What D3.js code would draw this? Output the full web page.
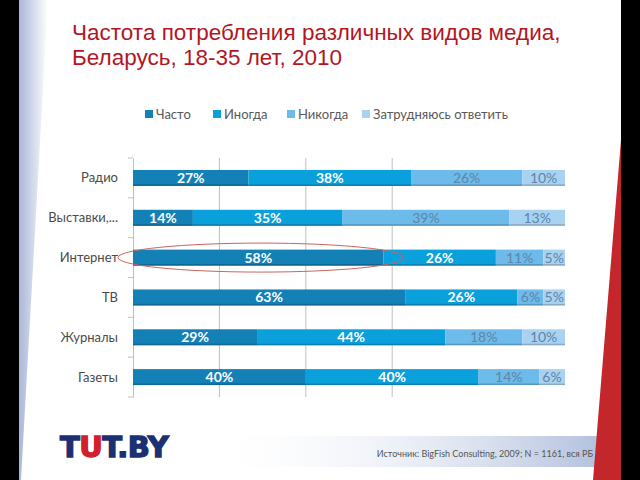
<!DOCTYPE html>
<html><head><meta charset="utf-8">
<script src="https://cdn.jsdelivr.net/npm/d3@7"></script>
<style>html,body{margin:0;padding:0;background:#fff;}svg{display:block;}</style>
</head><body>
<svg id="c" width="640" height="480"></svg>
<script>
const categories = ["Радио", "Выставки,...", "Интернет", "ТВ", "Журналы", "Газеты"];
const seriesNames = ["Часто", "Иногда", "Никогда", "Затрудняюсь ответить"];
const often = [27, 14, 58, 63, 29, 40];
const sometimes = [38, 35, 26, 26, 44, 40];
const never = [26, 39, 11, 6, 18, 14];
const unsure = [10, 13, 5, 5, 10, 6];
const gridTicks = [0.2, 0.4, 0.6];
const titleLines = ["Частота потребления различных видов медиа,", "Беларусь, 18-35 лет, 2010"];
const sourceText = "Источник: BigFish Consulting, 2009; N = 1161, вся РБ";

const colors = ["#1380b6", "#0aa0dc", "#6cbbea", "#a8d2f1"];
const labelColors = ["#ffffff", "#ffffff", "#6184a8", "#6184a8"];

const svg = d3.select("#c");
const defs = svg.append("defs");
const lg = defs.append("linearGradient").attr("id", "lw").attr("x1", 0).attr("x2", 1).attr("y1", 0).attr("y2", 0);
lg.append("stop").attr("offset", 0).attr("stop-color", "#a9b6d6");
lg.append("stop").attr("offset", 1).attr("stop-color", "#ffffff");
const bg = defs.append("linearGradient").attr("id", "bb").attr("x1", 0).attr("x2", 1).attr("y1", 0).attr("y2", 0);
bg.append("stop").attr("offset", 0).attr("stop-color", "#ffffff").attr("stop-opacity", 0);
bg.append("stop").attr("offset", 1).attr("stop-color", "#b3c1de");

// slide decoration
svg.append("rect").attr("x", 0).attr("y", 0).attr("width", 19).attr("height", 480).attr("fill", "#000");
svg.append("polygon").attr("points", "19,0 48,0 21,480 19,480").attr("fill", "url(#lw)");
svg.append("rect").attr("x", 200).attr("y", 436).attr("width", 400).attr("height", 31).attr("fill", "url(#bb)");
svg.append("rect").attr("x", 621).attr("y", 0).attr("width", 19).attr("height", 480).attr("fill", "#000");
svg.append("polygon").attr("points", "621,140 621,480 593,480").attr("fill", "#c3272b");

// title
svg.append("g").selectAll("text").data(titleLines).join("text")
  .attr("x", 72).attr("y", (d, i) => i === 0 ? 40 : 65)
  .attr("font-family", "Liberation Sans, Arial, sans-serif").attr("font-size", 22.5)
  .attr("fill", "#b3161f").text(d => d);

// legend
const legX = [145, 213, 287, 362];
const leg = svg.append("g").selectAll("g").data(seriesNames).join("g")
  .attr("transform", (d, i) => `translate(${legX[i]},110)`);
leg.append("rect").attr("width", 8).attr("height", 8).attr("fill", (d, i) => colors[i]);
leg.append("text").attr("x", 11).attr("y", 8.5).attr("font-family", "Lato, sans-serif").attr("font-size", 13)
  .attr("fill", "#595959").text(d => d);

// chart
const x = d3.scaleLinear().domain([0, 1]).range([133, 565]);
const y = d3.scaleBand().domain(categories).range([158, 397]).paddingInner(0.6).paddingOuter(0.3);
const yb = d3.scaleBand().domain(categories).range([158, 397]);

const rows = categories.map((c, i) => ({cat: c, often: often[i], sometimes: sometimes[i], never: never[i], unsure: unsure[i]}));
const keys = ["often", "sometimes", "never", "unsure"];
const stack = d3.stack().keys(keys).offset(d3.stackOffsetExpand);
const stacked = stack(rows);

// gridlines
svg.append("g").selectAll("line").data(gridTicks).join("line")
  .attr("x1", d => x(d)).attr("x2", d => x(d)).attr("y1", 158).attr("y2", 397)
  .attr("stroke", "#bfbfbf").attr("stroke-width", 1);

// axis
const yAxis = d3.axisLeft(yb).tickSize(0).tickFormat("");
const ag = svg.append("g").attr("transform", "translate(133,0)").call(yAxis);
ag.select(".domain").attr("stroke", "#bfbfbf");
svg.append("g").selectAll("line").data(d3.range(categories.length + 1)).join("line")
  .attr("x1", 128).attr("x2", 133)
  .attr("y1", i => 158 + i * yb.step()).attr("y2", i => 158 + i * yb.step())
  .attr("stroke", "#bfbfbf");

// category labels
svg.append("g").selectAll("text").data(categories).join("text")
  .attr("x", 118).attr("y", d => yb(d) + yb.bandwidth() / 2 + 4.5)
  .attr("text-anchor", "end").attr("font-family", "Lato, sans-serif").attr("font-size", 13)
  .attr("fill", "#4a4a4a").text(d => d);

// bars
const sg = svg.append("g").selectAll("g").data(stacked).join("g");
sg.selectAll("rect.b").data((s, si) => s.map(d => ({d, si}))).join("rect").attr("class", "b")
  .attr("x", o => x(o.d[0])).attr("width", o => x(o.d[1]) - x(o.d[0]))
  .attr("y", o => y(o.d.data.cat)).attr("height", y.bandwidth())
  .attr("fill", o => colors[o.si]);
sg.selectAll("rect.s").data((s, si) => s.map(d => ({d, si}))).join("rect").attr("class", "s")
  .attr("x", o => x(o.d[0])).attr("width", o => x(o.d[1]) - x(o.d[0]))
  .attr("y", o => y(o.d.data.cat) + y.bandwidth() - 1.5).attr("height", 1.5)
  .attr("fill", o => d3.color(colors[o.si]).darker(0.6));
sg.selectAll("text").data((s, si) => s.map(d => ({d, si, key: s.key}))).join("text")
  .attr("x", o => (x(o.d[0]) + x(o.d[1])) / 2)
  .attr("y", o => y(o.d.data.cat) + y.bandwidth() / 2 + 5)
  .attr("text-anchor", "middle").attr("font-family", "Lato, sans-serif").attr("font-size", 14)
  .attr("font-weight", o => o.si < 2 ? "bold" : "normal")
  .attr("fill", o => labelColors[o.si]).text(o => o.d.data[o.key] + "%");

// highlight ellipse around Интернет "often"
const ic = "Интернет";
const ie = stacked[0][categories.indexOf(ic)];
svg.append("ellipse")
  .attr("cx", (118 + x(ie[1]) + 20) / 2).attr("cy", y(ic) + y.bandwidth() / 2)
  .attr("rx", (x(ie[1]) + 20 - 118) / 2).attr("ry", 14.5)
  .attr("fill", "none").attr("stroke", "#c9645e").attr("stroke-width", 1);

// logo
const logo = svg.append("text").attr("x", 60).attr("y", 457)
  .attr("font-family", "DejaVu Sans, sans-serif").attr("font-weight", "bold").attr("font-size", 29)
  .attr("stroke-width", 1.4).attr("letter-spacing", -0.5);
logo.append("tspan").attr("fill", "#1d2f73").attr("stroke", "#1d2f73").text("T");
logo.append("tspan").attr("fill", "#d0202a").attr("stroke", "#d0202a").text("U");
logo.append("tspan").attr("fill", "#1d2f73").attr("stroke", "#1d2f73").text("T.BY");

// source
svg.append("text").attr("x", 593).attr("y", 457).attr("text-anchor", "end")
  .attr("font-family", "Lato, sans-serif").attr("font-size", 9).attr("fill", "#555")
  .text(sourceText);
</script>
</body></html>
